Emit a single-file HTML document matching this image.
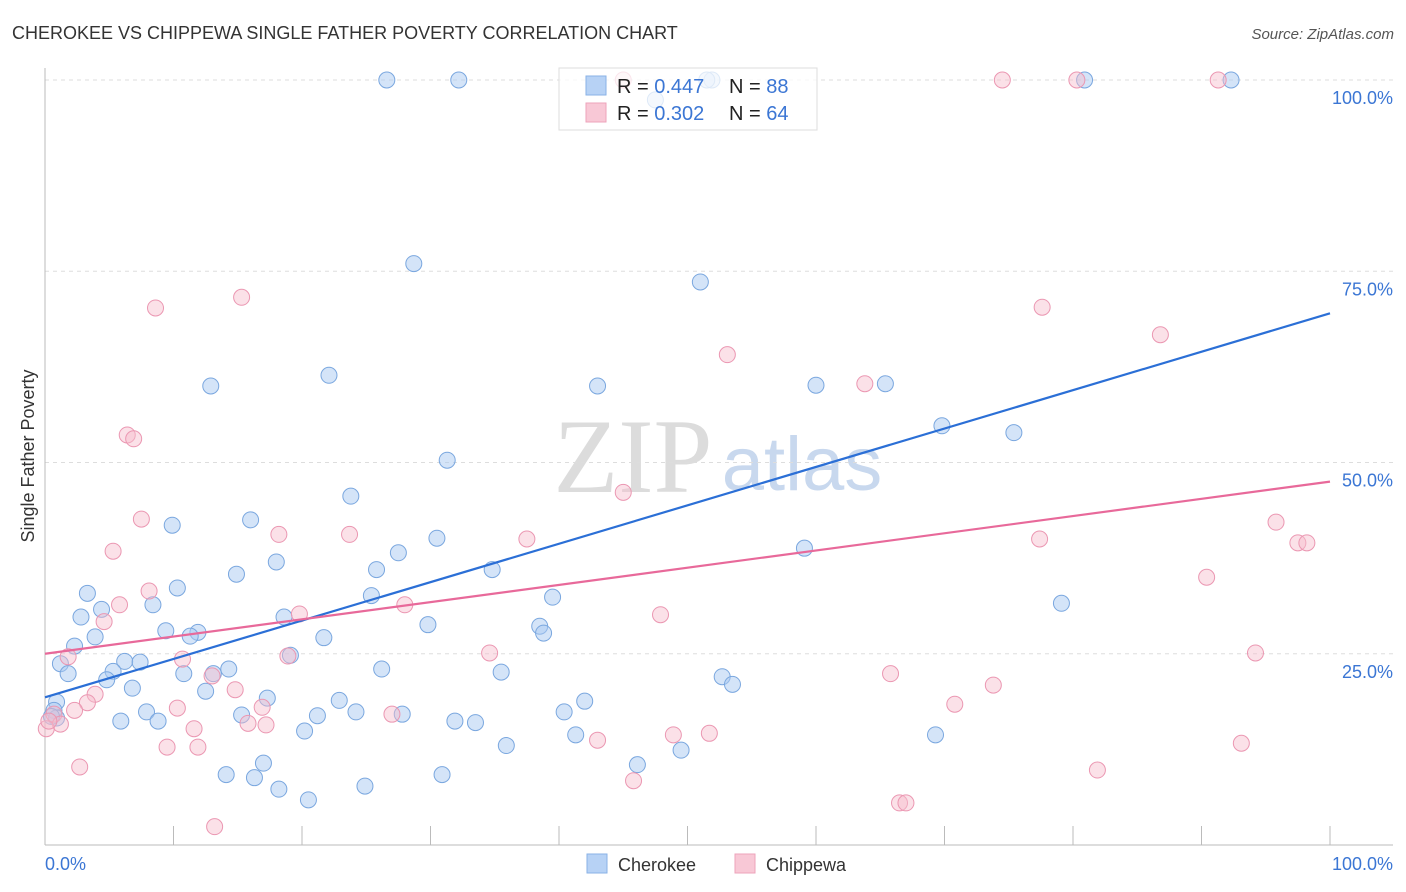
<!DOCTYPE html>
<html><head><meta charset="utf-8"><style>
body{margin:0;background:#fff;font-family:"Liberation Sans",sans-serif;}
svg{display:block}
</style></head><body>
<svg id="chart" width="1406" height="892" xmlns="http://www.w3.org/2000/svg">
<text x="12" y="39" font-size="18" fill="#333">CHEROKEE VS CHIPPEWA SINGLE FATHER POVERTY CORRELATION CHART</text>
<text x="1394" y="39" font-size="15" fill="#555" font-style="italic" text-anchor="end">Source: ZipAtlas.com</text>
<g>
<text x="633" y="492" font-size="106" font-family="Liberation Serif,serif" fill="#dcdcdc" text-anchor="middle">ZIP</text>
<text x="802" y="490" font-size="76" fill="#c8d8ee" text-anchor="middle">atlas</text>
</g>
<g id="grid"></g>
<g id="axes"></g>
<g id="marks"></g>
<g id="lines"></g>
<text transform="translate(34,456) rotate(-90)" font-size="18" fill="#333" text-anchor="middle">Single Father Poverty</text>
<text x="45" y="870" font-size="18" fill="#3b76d4">0.0%</text>
<text x="1393" y="870" font-size="18" fill="#3b76d4" text-anchor="end">100.0%</text>
<g>
<rect x="559" y="68" width="258" height="62" fill="#fff" fill-opacity="0.75" stroke="#ddd"/>
<rect x="586" y="76" width="20" height="19" fill="#b7d2f5" stroke="#8ab2e6"/>
<rect x="586" y="103" width="20" height="19" fill="#f8c8d6" stroke="#eea3bb"/>
<text x="617" y="93" font-size="20" fill="#222">R = <tspan fill="#3b76d4">0.447</tspan></text>
<text x="729" y="93" font-size="20" fill="#222">N = <tspan fill="#3b76d4">88</tspan></text>
<text x="617" y="120" font-size="20" fill="#222">R = <tspan fill="#3b76d4">0.302</tspan></text>
<text x="729" y="120" font-size="20" fill="#222">N = <tspan fill="#3b76d4">64</tspan></text>
</g>
<g>
<rect x="587" y="854" width="20" height="19" fill="#b7d2f5" stroke="#8ab2e6"/>
<text x="618" y="871" font-size="18" fill="#333">Cherokee</text>
</g>
<g>
<rect x="735" y="854" width="20" height="19" fill="#f8c8d6" stroke="#eea3bb"/>
<text x="766" y="871" font-size="18" fill="#333">Chippewa</text>
</g>
</svg>
<script>
const yTicks=[25,50,75,100];
const yTickLabels=["25.0%","50.0%","75.0%","100.0%"];
const xTicks=[0,10,20,30,40,50,60,70,80,90,100];
const cherokeeX=[26.6,32.2,51.9,80.9,92.3,47.5,28.7,51,12.9,22.1,43,60,65.4,69.8,75.4,31.3,23.8,16,9.9,30.5,27.5,59.1,18,25.8,34.8,14.9,10.3,3.3,8.4,4.4,2.8,25.4,39.5,18.6,79.1,9.4,11.9,11.3,3.9,21.7,29.8,38.5,38.8,2.3,19.1,1.2,1.8,6.2,7.4,5.3,10.8,14.3,13.1,26.2,35.5,52.7,53.5,4.8,6.8,12.5,17.3,0.9,0.7,0.9,7.9,5.9,8.8,15.3,21.2,24.2,22.9,27.8,31.9,33.5,40.4,42,20.2,35.9,41.3,69.3,17.0,14.1,16.3,49.5,46.1,30.9,18.2,20.5,24.9,0.5,51.5];
const cherokeeY=[100,100,100,100,100,97.4,76,73.6,60,61.4,60,60.1,60.3,54.8,53.9,50.3,45.6,42.5,41.8,40.1,38.2,38.8,37,36,36,35.4,33.6,32.9,31.4,30.8,29.8,32.6,32.4,29.8,31.6,28,27.8,27.3,27.2,27.1,28.8,28.6,27.7,26,24.8,23.7,22.4,24,23.9,22.7,22.4,23,22.4,23,22.6,22,21,21.6,20.5,20.1,19.2,18.7,17.6,16.6,17.4,16.2,16.2,17,16.9,17.4,18.9,17.1,16.2,16,17.4,18.8,14.9,13,14.4,14.4,10.7,9.2,8.8,12.4,10.5,9.2,7.3,5.9,7.7,16.8,100];
const chippewaX=[45,74.5,80.3,91.3,15.3,8.6,77.6,86.8,53.1,63.8,6.4,6.9,45,7.5,18.2,23.7,37.5,5.3,95.8,77.4,97.5,98.2,8.1,90.4,5.8,28,19.8,4.6,47.9,1.8,10.7,18.9,34.6,94.2,13,65.8,73.8,14.8,3.9,3.3,2.3,10.3,16.9,70.8,0.7,1.2,15.8,17.2,27,11.6,11.9,9.5,43,48.9,51.7,93.1,2.7,81.9,45.8,66.5,67,13.2,0.1,0.3];
const chippewaY=[100,100,100,100,71.6,70.2,70.3,66.7,64.1,60.3,53.6,53.1,46.1,42.6,40.6,40.6,40,38.4,42.2,40,39.5,39.5,33.2,35,31.4,31.4,30.2,29.2,30.1,24.6,24.3,24.7,25.1,25.1,22.1,22.4,20.9,20.3,19.7,18.6,17.6,17.9,18.0,18.4,17.1,15.8,15.9,15.7,17.1,15.2,12.8,12.8,13.7,14.4,14.6,13.3,10.2,9.8,8.4,5.5,5.5,2.4,15.2,16.2];
const blueLine=[19.3,69.5];
const pinkLine=[25,47.5];
const X=v=>45+v*12.85;
const Y=v=>845-v*7.65;
const NS="http://www.w3.org/2000/svg";
function mk(tag,attrs,parent){const e=document.createElementNS(NS,tag);for(const k in attrs)e.setAttribute(k,attrs[k]);parent.appendChild(e);return e;}
const grid=document.getElementById('grid'),axes=document.getElementById('axes'),marks=document.getElementById('marks'),lines=document.getElementById('lines');
yTicks.forEach((t,i)=>{
 const l=mk('line',{x1:45,x2:1393,y1:Y(t),y2:Y(t),stroke:'#ddd','stroke-dasharray':'4,4'},grid);
 
 
 const tx=mk('text',{x:1393,y:Y(t)+24,'font-size':18,fill:'#3b76d4','text-anchor':'end'},grid);
 tx.textContent=yTickLabels[i];
 
 
});
const ya=mk('line',{x1:45,x2:45,y1:68,y2:845,stroke:'#bbb'},axes);


const xa=mk('line',{x1:45,x2:1393,y1:845,y2:845,stroke:'#bbb'},axes);


xTicks.forEach(t=>{
 const l=mk('line',{x1:X(t),x2:X(t),y1:845,y2:826,stroke:'#bbb'},axes);
 
 
});
cherokeeX.forEach((v,i)=>{
 const c=mk('circle',{cx:X(v),cy:Y(cherokeeY[i]),r:8,fill:'#a9c9f2','fill-opacity':0.5,stroke:'#7aa7df','stroke-width':1},marks);
 
 
});
chippewaX.forEach((v,i)=>{
 const c=mk('circle',{cx:X(v),cy:Y(chippewaY[i]),r:8,fill:'#f6bccd','fill-opacity':0.45,stroke:'#eb97b2','stroke-width':1},marks);
 
 
});
const bl=mk('line',{x1:X(0),x2:X(100),y1:Y(blueLine[0]),y2:Y(blueLine[1]),stroke:'#2b6fd6','stroke-width':2.2},lines);


const pl=mk('line',{x1:X(0),x2:X(100),y1:Y(pinkLine[0]),y2:Y(pinkLine[1]),stroke:'#e8699a','stroke-width':2.2},lines);


</script>
</body></html>
